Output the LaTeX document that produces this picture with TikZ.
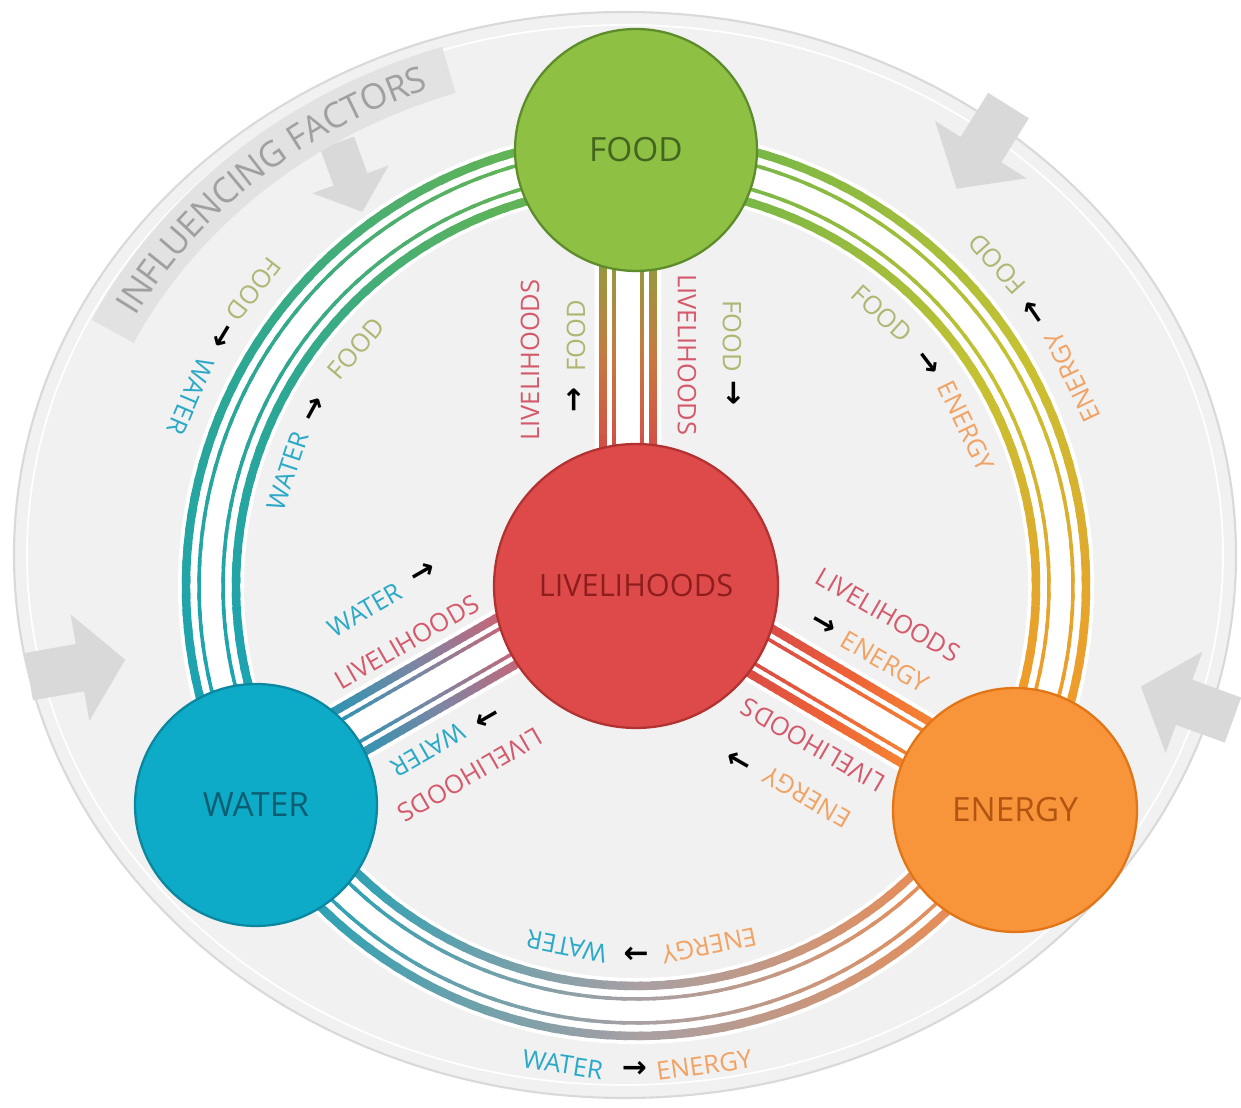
\documentclass[tikz,border=0pt]{standalone}
\usepackage{fontspec}
\setmainfont{Open Sans}
\newfontfamily\arrowfont{DejaVu Sans}
\usetikzlibrary{calc,decorations.text}
\pgfdeclarelayer{back}
\pgfdeclarelayer{mid}
\pgfsetlayers{back,mid,main}
% node colours
\definecolor{foodG}{HTML}{8DC043}\definecolor{foodB}{HTML}{5E8C2C}\definecolor{foodT}{HTML}{44651F}
\definecolor{livR}{HTML}{DE4A4A}\definecolor{livB}{HTML}{B23232}\definecolor{livT}{HTML}{8E1E1E}
\definecolor{watC}{HTML}{0DABC8}\definecolor{watB}{HTML}{0B879F}\definecolor{watT}{HTML}{0B5E72}
\definecolor{eneO}{HTML}{F8943A}\definecolor{eneB}{HTML}{E27516}\definecolor{eneT}{HTML}{B25512}
% label colours
\definecolor{lblW}{HTML}{2AAAC8}\definecolor{lblF}{HTML}{B0B672}
\definecolor{lblL}{HTML}{D4596A}\definecolor{lblE}{HTML}{F2A262}
% arc colours
\definecolor{arcG}{HTML}{6CB64A}\definecolor{arcTm}{HTML}{2EA892}\definecolor{arcT}{HTML}{1AA2B6}
\definecolor{arcY}{HTML}{C6C232}\definecolor{arcO}{HTML}{F5962A}
\definecolor{arcGr}{HTML}{A8A0A4}\definecolor{arcOr}{HTML}{F28A4A}
% connector colours
\definecolor{conR}{HTML}{D64848}\definecolor{conBr}{HTML}{C67A40}\definecolor{conOl}{HTML}{8E9E3E}
\definecolor{conP}{HTML}{CF6272}\definecolor{conBG}{HTML}{7C86A4}\definecolor{conTe}{HTML}{2396B4}
\definecolor{conOR}{HTML}{EE6236}\definecolor{conO}{HTML}{F68A32}
% background
\definecolor{ellfill}{HTML}{F1F1F1}\definecolor{inflgray}{HTML}{D9D9D9}
\definecolor{inflband}{HTML}{E2E2E2}\definecolor{infltext}{HTML}{A0A0A0}

\newcommand\gradarc[7]{%
  \foreach \k in {1,...,48}{%
    \pgfmathsetmacro\angA{#1+(#2-#1)*(\k-1)/48}%
    \pgfmathsetmacro\angB{#1+(#2-#1)*(\k+0.4)/48}%
    \pgfmathtruncatemacro\mixp{(\k-0.5)*200/48}%
    \ifnum\mixp<100 \colorlet{segc}{#6!\mixp!#5}\else\pgfmathtruncatemacro\mixq{\mixp-100}\colorlet{segc}{#7!\mixq!#6}\fi
    \draw[segc,line width=#4] ($(ctr)+(\angA:#3)$) arc[start angle=\angA,end angle=\angB,radius=#3];
  }%
}
\newcommand\gradline[9]{%
  \pgfmathsetlengthmacro\offd{(#5)*0.02cm}%
  \foreach \k in {1,...,30}{%
    \pgfmathsetmacro\tA{#3+(#4-#3)*(\k-1)/30}%
    \pgfmathsetmacro\tB{#3+(#4-#3)*(\k+0.4)/30}%
    \pgfmathtruncatemacro\mixp{(\k-0.5)*200/30}%
    \ifnum\mixp<100 \colorlet{segc}{#8!\mixp!#7}\else\pgfmathtruncatemacro\mixq{\mixp-100}\colorlet{segc}{#9!\mixq!#8}\fi
    \coordinate (pa) at ($(#1)!\tA!(#2)$);
    \coordinate (pb) at ($(#1)!\tB!(#2)$);
    \draw[segc,line width=#6] ($(pa)!\offd!90:(#2)$) -- ($(pb)!\offd!90:(#2)$);
  }%
}
\newcommand\whiteband[3]{%
  \pgfmathsetlengthmacro\offd{(#3)*0.02cm}%
  \coordinate (wa) at ($(#1)!0.25!(#2)$);
  \coordinate (wb) at ($(#1)!0.8!(#2)$);
  \draw[white,line width=38pt] ($(wa)!\offd!90:(#2)$) -- ($(wb)!\offd!90:(#2)$);
}
\newcommand\blockarrow[4]{%
  \fill[bigarrow,shift={(#1,#2)},rotate=#3,scale=#4] (-50,-24) -- (2,-24) -- (2,-54) -- (48,0) -- (2,54) -- (2,24) -- (-50,24) -- cycle;
}

\begin{document}
\begin{tikzpicture}[x=0.02cm,y=0.02cm,
  hub/.style={circle,line width=1.3pt,inner sep=0pt,font=\fontsize{19}{19}\selectfont},
  lbl/.style={inner sep=0pt,font=\fontsize{14.5}{14.5}\selectfont},
  arl/.style={inner sep=0pt,text=black,font=\arrowfont\bfseries\fontsize{17}{17}\selectfont},
  bigarrow/.style={fill=inflgray}]
\useasboundingbox (0,0) rectangle (1241,1108);

% ---- hubs
\node[hub,fill=livR,draw=livB,text=livT,minimum size=5.68cm,font=\fontsize{17.5}{17.5}\selectfont] (liv) at (636,522) {LIVELIHOODS};
\node[hub,fill=foodG,draw=foodB,text=foodT,minimum size=4.84cm] (food) at (636,958) {FOOD};
\node[hub,fill=watC,draw=watB,text=watT,minimum size=4.84cm] (water) at (256,303) {WATER};
\node[hub,fill=eneO,draw=eneB,text=eneT,minimum size=4.88cm] (energy) at (1015,298) {ENERGY};
\coordinate (ctr) at (636,522);
\coordinate (ectr) at (625,553);

% ---- background
\begin{pgfonlayer}{back}
\fill[white] (0,0) rectangle (1241,1108);
\fill[ellfill] (ectr) ellipse[x radius=611,y radius=543];
\draw[gray!30,line width=1.2pt] (ectr) ellipse[x radius=611,y radius=543];
\draw[white,line width=1pt] (ectr) ellipse[x radius=598,y radius=530];
\blockarrow{78}{440}{10}{1}
\blockarrow{1186}{405}{160}{1}
\blockarrow{982}{960}{238}{1}
\blockarrow{350}{930}{-70}{0.75}
\draw[inflband,line width=0.96cm] ($(ectr)+(154:570 and 510)$) arc[start angle=154,end angle=108,x radius=570,y radius=510];
\path[decorate,decoration={text along path,text align=center,raise=-7pt,
  text={|\fontsize{20}{20}\selectfont\color{infltext}|INFLUENCING FACTORS}}]
  ($(ectr)+(153:570 and 510)$) arc[start angle=153,end angle=109,x radius=570,y radius=510];
\end{pgfonlayer}

% ---- connectors
\begin{pgfonlayer}{mid}
\draw[white,line width=37.6pt] (ctr) circle[radius=425];
\whiteband{liv.center}{food.center}{8}
\whiteband{liv.center}{water.center}{-17}
\whiteband{liv.center}{energy.center}{7.5}
% FOOD - WATER
\gradarc{98}{200}{450}{4.8pt}{arcG}{arcTm}{arcT}
\gradarc{98}{200}{437}{2pt}{arcG}{arcTm}{arcT}
\gradarc{98}{200}{413}{2pt}{arcG}{arcTm}{arcT}
\gradarc{98}{200}{400}{4.8pt}{arcG}{arcTm}{arcT}
% FOOD - ENERGY
\gradarc{82}{-20}{450}{4.8pt}{arcG}{arcY}{arcO}
\gradarc{82}{-20}{437}{2pt}{arcG}{arcY}{arcO}
\gradarc{82}{-20}{413}{2pt}{arcG}{arcY}{arcO}
\gradarc{82}{-20}{400}{4.8pt}{arcG}{arcY}{arcO}
% WATER - ENERGY
\gradarc{218}{322}{450}{4.8pt}{arcT}{arcGr}{arcOr}
\gradarc{218}{322}{437}{2pt}{arcT}{arcGr}{arcOr}
\gradarc{218}{322}{413}{2pt}{arcT}{arcGr}{arcOr}
\gradarc{218}{322}{400}{4.8pt}{arcT}{arcGr}{arcOr}
% LIVELIHOODS - FOOD
\gradline{liv.center}{food.center}{0.28}{0.77}{33}{4.8pt}{conR}{conBr}{conOl}
\gradline{liv.center}{food.center}{0.28}{0.77}{22}{2pt}{conR}{conBr}{conOl}
\gradline{liv.center}{food.center}{0.28}{0.77}{-6}{2pt}{conR}{conBr}{conOl}
\gradline{liv.center}{food.center}{0.28}{0.77}{-17}{4.8pt}{conR}{conBr}{conOl}
% LIVELIHOODS - WATER
\gradline{liv.center}{water.center}{0.28}{0.77}{8}{4.8pt}{conP}{conBG}{conTe}
\gradline{liv.center}{water.center}{0.28}{0.77}{-3}{2pt}{conP}{conBG}{conTe}
\gradline{liv.center}{water.center}{0.28}{0.77}{-31}{2pt}{conP}{conBG}{conTe}
\gradline{liv.center}{water.center}{0.28}{0.77}{-42}{4.8pt}{conP}{conBG}{conTe}
% LIVELIHOODS - ENERGY
\gradline{liv.center}{energy.center}{0.28}{0.77}{32.5}{4.8pt}{conR}{conOR}{conO}
\gradline{liv.center}{energy.center}{0.28}{0.77}{21.5}{2pt}{conR}{conOR}{conO}
\gradline{liv.center}{energy.center}{0.28}{0.77}{-6.5}{2pt}{conR}{conOR}{conO}
\gradline{liv.center}{energy.center}{0.28}{0.77}{-17.5}{4.8pt}{conR}{conOR}{conO}
\end{pgfonlayer}

% ---- arc labels: left (FOOD - WATER)
\node[lbl,text=lblF,rotate=232.2] (lo1) at ($(ctr)+(142.2:484)$) {FOOD};
\node[arl,rotate=238.8] (lo2) at ($(ctr)+(148.8:484)$) {→};
\node[lbl,text=lblW,rotate=246.9] (lo3) at ($(ctr)+(156.9:484)$) {WATER};
\node[lbl,text=lblW,rotate=71.7] (li1) at ($(ctr)+(161.7:367)$) {WATER};
\node[arl,rotate=61.3] (li2) at ($(ctr)+(151.3:367)$) {→};
\node[lbl,text=lblF,rotate=49.7] (li3) at ($(ctr)+(139.7:367)$) {FOOD};
% right (FOOD - ENERGY)
\node[lbl,text=lblE,rotate=115.6] (ro1) at ($(ctr)+(25.6:484)$) {ENERGY};
\node[arl,rotate=124.5] (ro2) at ($(ctr)+(34.5:484)$) {→};
\node[lbl,text=lblF,rotate=131.7] (ro3) at ($(ctr)+(41.7:484)$) {FOOD};
\node[lbl,text=lblF,rotate=-42.1] (ri1) at ($(ctr)+(47.9:367)$) {FOOD};
\node[arl,rotate=-52.6] (ri2) at ($(ctr)+(37.4:367)$) {→};
\node[lbl,text=lblE,rotate=-64.1] (ri3) at ($(ctr)+(25.9:367)$) {ENERGY};
% bottom (WATER - ENERGY)
\node[lbl,text=lblE,rotate=191.5] (bi1) at ($(ctr)+(281.5:367)$) {ENERGY};
\node[arl,rotate=180] (bi2) at ($(ctr)+(270:367)$) {→};
\node[lbl,text=lblW,rotate=169.1] (bi3) at ($(ctr)+(259.1:367)$) {WATER};
\node[lbl,text=lblW,rotate=351.3] (bo1) at ($(ctr)+(261.3:484)$) {WATER};
\node[arl,rotate=359.8] (bo2) at ($(ctr)+(269.8:484)$) {→};
\node[lbl,text=lblE,rotate=8.1] (bo3) at ($(ctr)+(278.1:484)$) {ENERGY};

% ---- connector labels: LIVELIHOODS - FOOD
\node[lbl,text=lblL,rotate=90] (vf1) at (530,748) {LIVELIHOODS};
\node[arl,rotate=90] (vf2) at (575,708) {→};
\node[lbl,text=lblF,rotate=90] (vf3) at (576,772) {FOOD};
\node[lbl,text=lblF,rotate=-90] (vf4) at (732,772) {FOOD};
\node[arl,rotate=-90] (vf5) at (733,715) {→};
\node[lbl,text=lblL,rotate=-90] (vf6) at (687,753) {LIVELIHOODS};
% LIVELIHOODS - WATER
\node[lbl,text=lblW,rotate=30] (vw1) at (365,498) {WATER};
\node[arl,rotate=30] (vw2) at (423,535) {→};
\node[lbl,text=lblL,rotate=30] (vw3) at (407,466) {LIVELIHOODS};
\node[lbl,text=lblW,rotate=210] (vw4) at (428,358) {WATER};
\node[arl,rotate=210] (vw5) at (487,391) {→};
\node[lbl,text=lblL,rotate=210] (vw6) at (470,333) {LIVELIHOODS};
% LIVELIHOODS - ENERGY
\node[lbl,text=lblL,rotate=-30] (ve1) at (888,493) {LIVELIHOODS};
\node[arl,rotate=-30] (ve2) at (823,483) {→};
\node[lbl,text=lblE,rotate=-30] (ve3) at (885,446) {ENERGY};
\node[lbl,text=lblL,rotate=150] (ve4) at (813,363) {LIVELIHOODS};
\node[arl,rotate=150] (ve5) at (740,348) {→};
\node[lbl,text=lblE,rotate=150] (ve6) at (807,311) {ENERGY};
\end{tikzpicture}
\end{document}
